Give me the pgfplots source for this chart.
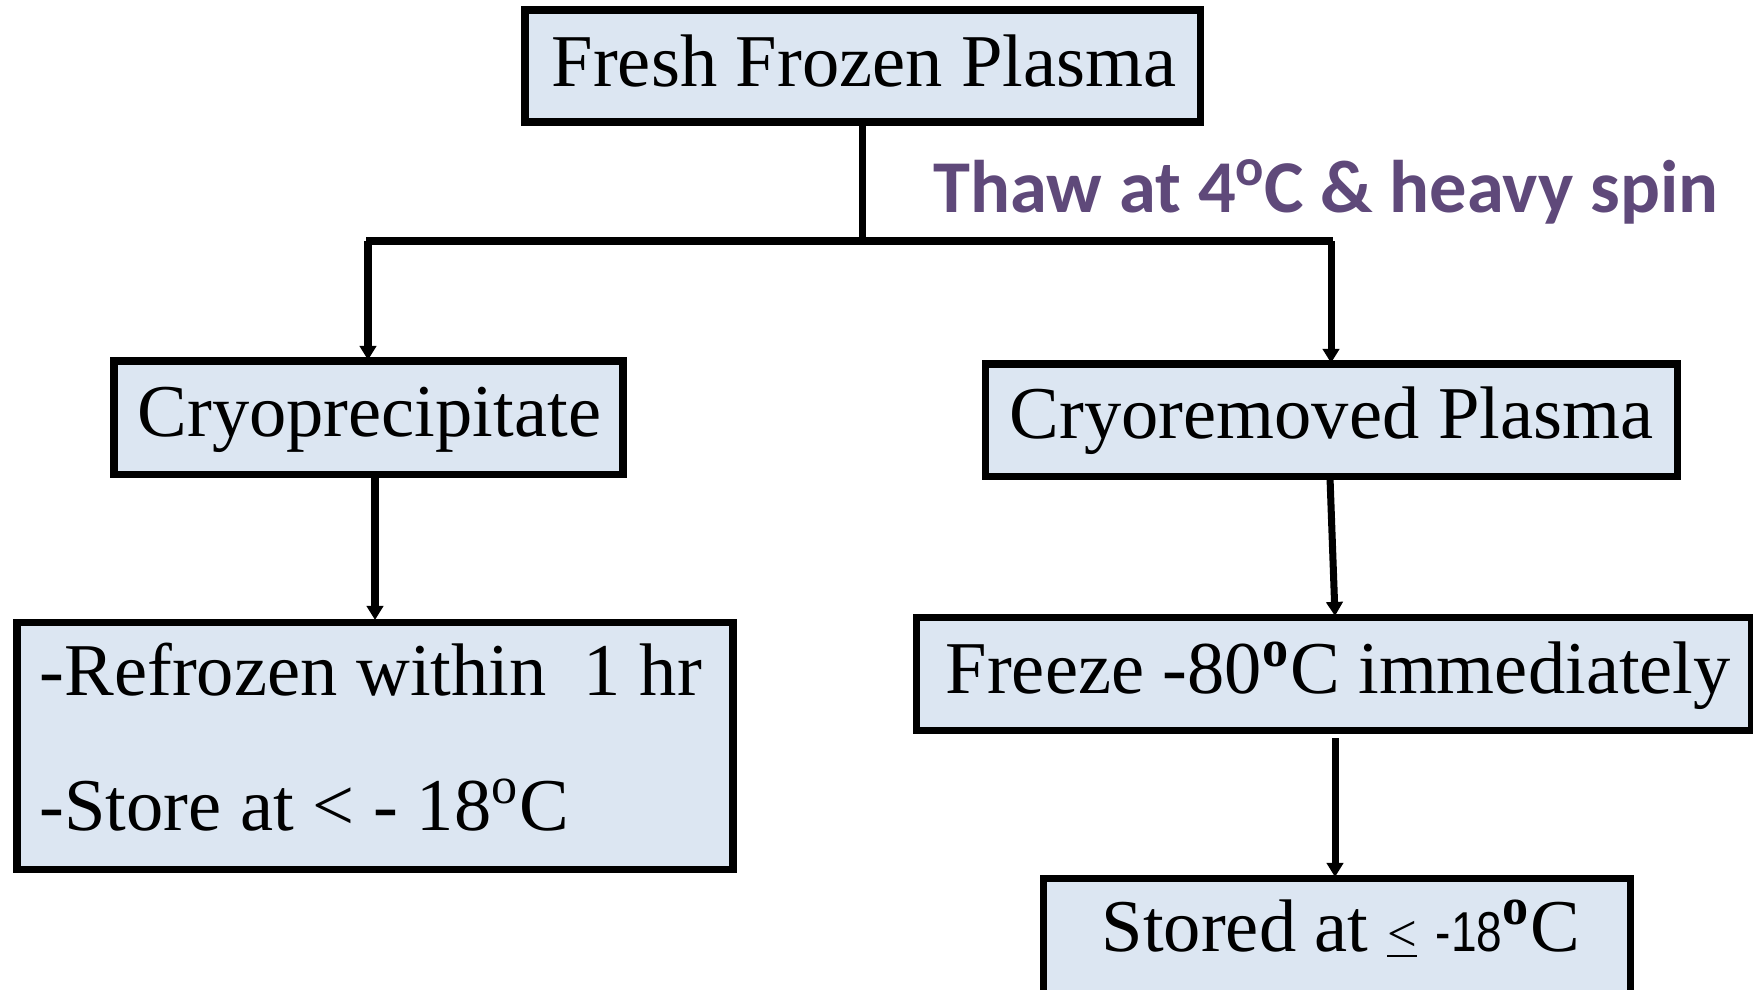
\documentclass[border=0pt]{standalone}
\usepackage{pgfplots}
\pgfplotsset{compat=1.18}
\usepackage{fontspec}
\setmainfont{Liberation Serif}
\newfontfamily\calfont{Carlito}
\newfontfamily\narrowfont[FakeStretch=0.82]{Liberation Sans}
\usetikzlibrary{arrows.meta}
\definecolor{boxfill}{HTML}{DCE6F2}
\definecolor{thaw}{HTML}{5F497A}
\begin{document}
\begin{tikzpicture}
\begin{axis}[scale only axis, width=17.53cm, height=9.89cm,
  xmin=0, xmax=1753, ymin=0, ymax=989, y dir=reverse,
  axis lines=none, clip=false]
\tikzset{box/.style={draw=black, fill=boxfill, line width=2pt},
  conn/.style={black, line width=2pt, no markers},
  arr/.style={conn, -{Triangle[length=4pt,width=4.6pt]}},
  lbl/.style={anchor=base west, inner sep=0pt, font=\fontsize{21.2}{25}\selectfont}}
% boxes
\draw[box] (axis cs:525,10) rectangle (axis cs:1200,122);
\draw[box] (axis cs:114,361) rectangle (axis cs:623,474);
\draw[box] (axis cs:985,364) rectangle (axis cs:1677,476);
\draw[box] (axis cs:17,622) rectangle (axis cs:733,869);
\draw[box] (axis cs:916,617) rectangle (axis cs:1751,730);
\draw[box] (axis cs:1043,878) rectangle (axis cs:1630,1000);
% connectors
\addplot[conn] coordinates {(862,122) (862,241)};
\addplot[conn] coordinates {(366,241) (1333,241)};
\addplot[arr] coordinates {(368,241) (368,360)};
\addplot[arr] coordinates {(1331,241) (1331,363)};
\addplot[arr] coordinates {(375,478) (375,620)};
\addplot[arr] coordinates {(1330,478) (1335,616)};
\addplot[arr] coordinates {(1335,738) (1335,877)};
% texts
\node[lbl] at (axis cs:551,86) {Fresh Frozen Plasma};
\node[anchor=base west, inner sep=0pt, text=thaw, font=\calfont\bfseries\fontsize{21.2}{25}\selectfont] at (axis cs:933,212) {Thaw at 4\raisebox{7.5pt}{\fontsize{15}{15}\selectfont o}C \& heavy spin};
\node[lbl] at (axis cs:137,436) {Cryoprecipitate};
\node[lbl] at (axis cs:1009,438) {Cryoremoved Plasma};
\node[lbl] at (axis cs:39,695) {-Refrozen within\ \ 1 hr};
\node[lbl] at (axis cs:39,830) {-Store at {\textless} - 18\textsuperscript{o}C};
\node[lbl] at (axis cs:945,693) {Freeze -80\textsuperscript{\textbf{o}}C immediately};
\node[lbl] at (axis cs:1101,951) {Stored at {\fontsize{15}{18}\selectfont\underline{\textless}} {\narrowfont\fontsize{16}{18}\selectfont -18}\textsuperscript{\textbf{o}}C};
\end{axis}
\pgfresetboundingbox
\useasboundingbox (0,0) rectangle (17.53cm,9.89cm);
\end{tikzpicture}
\end{document}
